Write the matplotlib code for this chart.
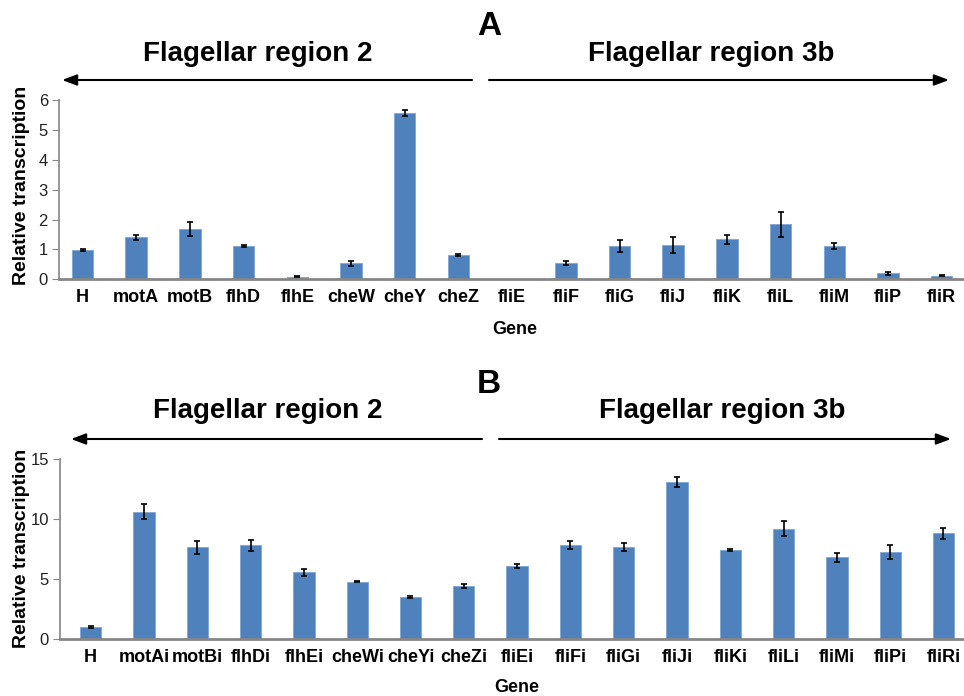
import numpy as np
import matplotlib
matplotlib.use("Agg")
import matplotlib.pyplot as plt
from matplotlib.patches import FancyArrowPatch

plt.rcParams['font.family'] = ['Liberation Sans', 'DejaVu Sans']

# ---- data ----
genes_a = ["H", "motA", "motB", "flhD", "flhE", "cheW", "cheY", "cheZ",
           "fliE", "fliF", "fliG", "fliJ", "fliK", "fliL", "fliM", "fliP", "fliR"]
vals_a = [0.98, 1.40, 1.69, 1.12, 0.09, 0.53, 5.58, 0.81,
          0.0, 0.55, 1.12, 1.16, 1.34, 1.84, 1.12, 0.20, 0.12]
errs_a = [0.04, 0.07, 0.23, 0.03, 0.02, 0.08, 0.10, 0.03,
          0.0, 0.06, 0.19, 0.27, 0.15, 0.42, 0.10, 0.04, 0.02]

genes_b = ["H", "motAi", "motBi", "flhDi", "flhEi", "cheWi", "cheYi", "cheZi",
           "fliEi", "fliFi", "fliGi", "fliJi", "fliKi", "fliLi", "fliMi", "fliPi", "fliRi"]
vals_b = [1.03, 10.63, 7.67, 7.83, 5.58, 4.80, 3.52, 4.44,
          6.13, 7.83, 7.67, 13.10, 7.44, 9.22, 6.83, 7.30, 8.83]
errs_b = [0.10, 0.63, 0.55, 0.47, 0.28, 0.05, 0.10, 0.15,
          0.15, 0.33, 0.35, 0.42, 0.12, 0.62, 0.35, 0.58, 0.46]

yticks_a = [0, 1, 2, 3, 4, 5, 6]
yticks_b = [0, 5, 10, 15]

W, H = 964, 696
fig = plt.figure(figsize=(W / 100, H / 100), dpi=100)

BAR = '#4F81BD'
SPINE = '#868686'


def px(x, y):
    return x / W, 1 - y / H


def make_panel(rect, genes, vals, errs, yticks, xlim):
    ax = fig.add_axes(rect)
    x = np.arange(len(genes))
    ax.bar(x, vals, width=0.4, color=BAR, edgecolor='#7FA5D4', linewidth=0.6, zorder=2)
    e = np.array(errs)
    m = e > 0
    ax.errorbar(x[m], np.array(vals)[m], yerr=e[m], fmt='none', ecolor='black',
                elinewidth=1.2, capsize=2.5, capthick=1.2, zorder=3)
    ax.set_xlim(*xlim)
    ax.set_ylim(yticks[0], yticks[-1])
    ax.set_yticks(yticks)
    ax.set_xticks(x)
    ax.set_xticklabels(genes, fontsize=13, fontweight='bold')
    ax.tick_params(axis='x', length=0, pad=7)
    ax.tick_params(axis='y', length=5, color=SPINE, labelsize=12, pad=3, labelcolor='#222222')
    for s in ['top', 'right']:
        ax.spines[s].set_visible(False)
    ax.spines['left'].set_color(SPINE)
    ax.spines['left'].set_linewidth(1.2)
    ax.spines['bottom'].set_color(SPINE)
    ax.spines['bottom'].set_linewidth(2.0)
    return ax


# top panel
ax1 = make_panel([59 / W, 1 - 279.3 / H, (W - 59) / W, (279.3 - 100) / H],
                 genes_a, vals_a, errs_a, yticks_a, (-0.438, 16.415))
# bottom panel
ax2 = make_panel([60 / W, 1 - 639.3 / H, (W - 60) / W, (639.3 - 459.3) / H],
                 genes_b, vals_b, errs_b, yticks_b, (-0.576, 16.385))


def ftext(x, y, s, **kw):
    fx, fy = px(x, y)
    fig.text(fx, fy, s, **kw)


def arrow(x0, y0, x1, y1):
    a = FancyArrowPatch(px(x0, y0), px(x1, y1), transform=fig.transFigure,
                        arrowstyle='-|>,head_length=0.8,head_width=0.3',
                        mutation_scale=11, color='black', linewidth=1.5,
                        shrinkA=0, shrinkB=0)
    fig.add_artist(a)


# Panel A annotations
ftext(489, 35, "A", fontsize=24, fontweight='bold', ha='center', va='baseline')
ftext(258, 61, "Flagellar region 2", fontsize=20, fontweight='bold', ha='center', va='baseline')
ftext(711, 61, "Flagellar region 3b", fontsize=20, fontweight='bold', ha='center', va='baseline')
arrow(472, 80, 62, 80)
arrow(489, 80, 949, 80)
ftext(22, 185, "Relative transcription", fontsize=14, fontweight='bold',
      ha='center', va='center', rotation=90)
ftext(515, 334, "Gene", fontsize=13, fontweight='bold', ha='center', va='baseline')

# Panel B annotations
ftext(488.5, 393, "B", fontsize=24, fontweight='bold', ha='center', va='baseline')
ftext(268, 418, "Flagellar region 2", fontsize=20, fontweight='bold', ha='center', va='baseline')
ftext(722, 418, "Flagellar region 3b", fontsize=20, fontweight='bold', ha='center', va='baseline')
arrow(482, 439, 71, 439)
arrow(499, 439, 951, 439)
ftext(22, 548, "Relative transcription", fontsize=14, fontweight='bold',
      ha='center', va='center', rotation=90)
ftext(517, 692, "Gene", fontsize=13, fontweight='bold', ha='center', va='baseline')

fig.savefig("out.png", dpi=100)
